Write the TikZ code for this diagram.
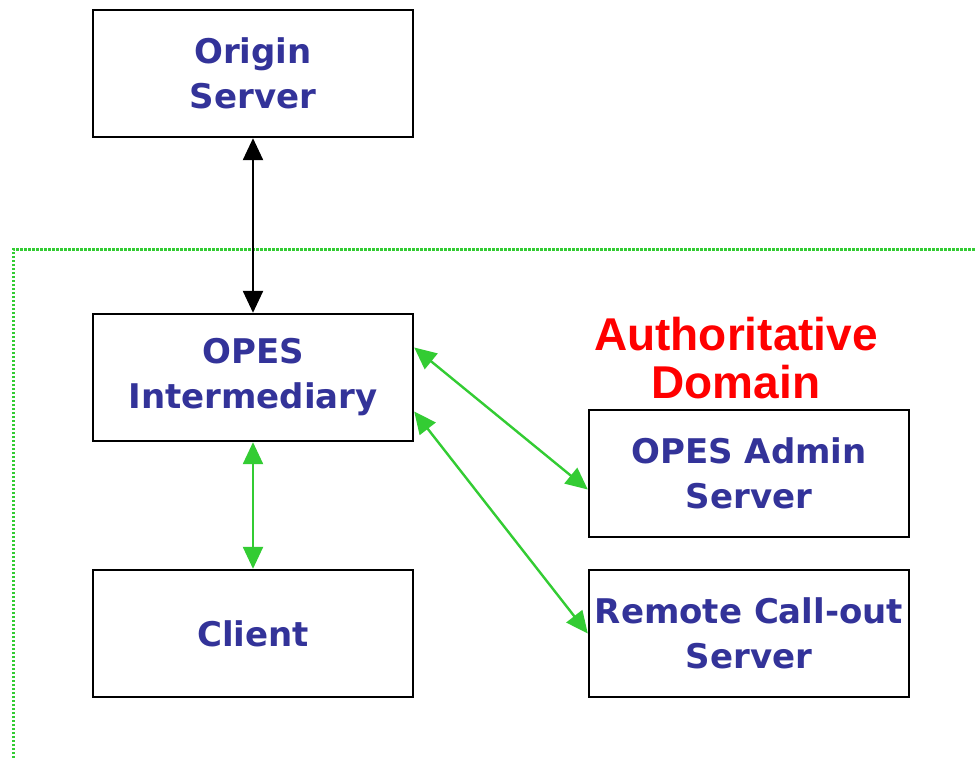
\documentclass[tikz,border=0pt]{standalone}
\usepackage{fontspec}
\usetikzlibrary{arrows.meta,calc}
\newfontfamily\boxfont{DejaVu Sans}
\newfontfamily\domfont{Liberation Sans}
\definecolor{boxblue}{RGB}{51,51,153}
\definecolor{lgreen}{RGB}{51,204,51}
\definecolor{domred}{RGB}{255,0,0}
\begin{document}
\begin{tikzpicture}[x=1pt,y=1pt,
  srvbox/.style={draw=black,line width=2.4pt,minimum width=320pt,minimum height=127pt,
    inner sep=0pt,align=center,text=boxblue,
    font=\boxfont\bfseries\fontsize{34}{45}\selectfont},
  conn/.style={line width=2.4pt,{Triangle[length=22pt,width=20pt]}-{Triangle[length=22pt,width=20pt]}},
  gconn/.style={conn,draw=lgreen,fill=lgreen}]
\useasboundingbox (0,0) rectangle (975,-758);
\fill[white] (0,0) rectangle (975,-758);
% dotted authoritative domain border
\draw[lgreen,line width=3pt,dash pattern=on 2.5pt off 1.5pt] (13,-758) -- (13,-249) -- (975,-249);
\node[srvbox] (origin) at (253,-73.5) {Origin\\Server};
\node[srvbox] (opes) at (253,-377.5) {OPES\\Intermediary};
\node[srvbox] (client) at (253,-633.5) {Client};
\node[srvbox] (admin) at (749,-473.5) {OPES Admin\\Server};
\node[srvbox] (remote) at (749,-633.5) {Remote Call-out\\Server};
\node[text=domred,align=center,font=\domfont\bfseries\fontsize{46}{48}\selectfont] (dom) at (736,-358) {Authoritative\\Domain};
\draw[conn,draw=black,fill=black] (origin.south) -- (opes.north);
\draw[gconn] (opes.south) -- (client.north);
\draw[gconn] ([yshift=30pt]opes.east) -- ([yshift=-16pt]admin.west);
\draw[gconn] ([yshift=-34pt]opes.east) -- (remote.west);
\end{tikzpicture}
\end{document}
